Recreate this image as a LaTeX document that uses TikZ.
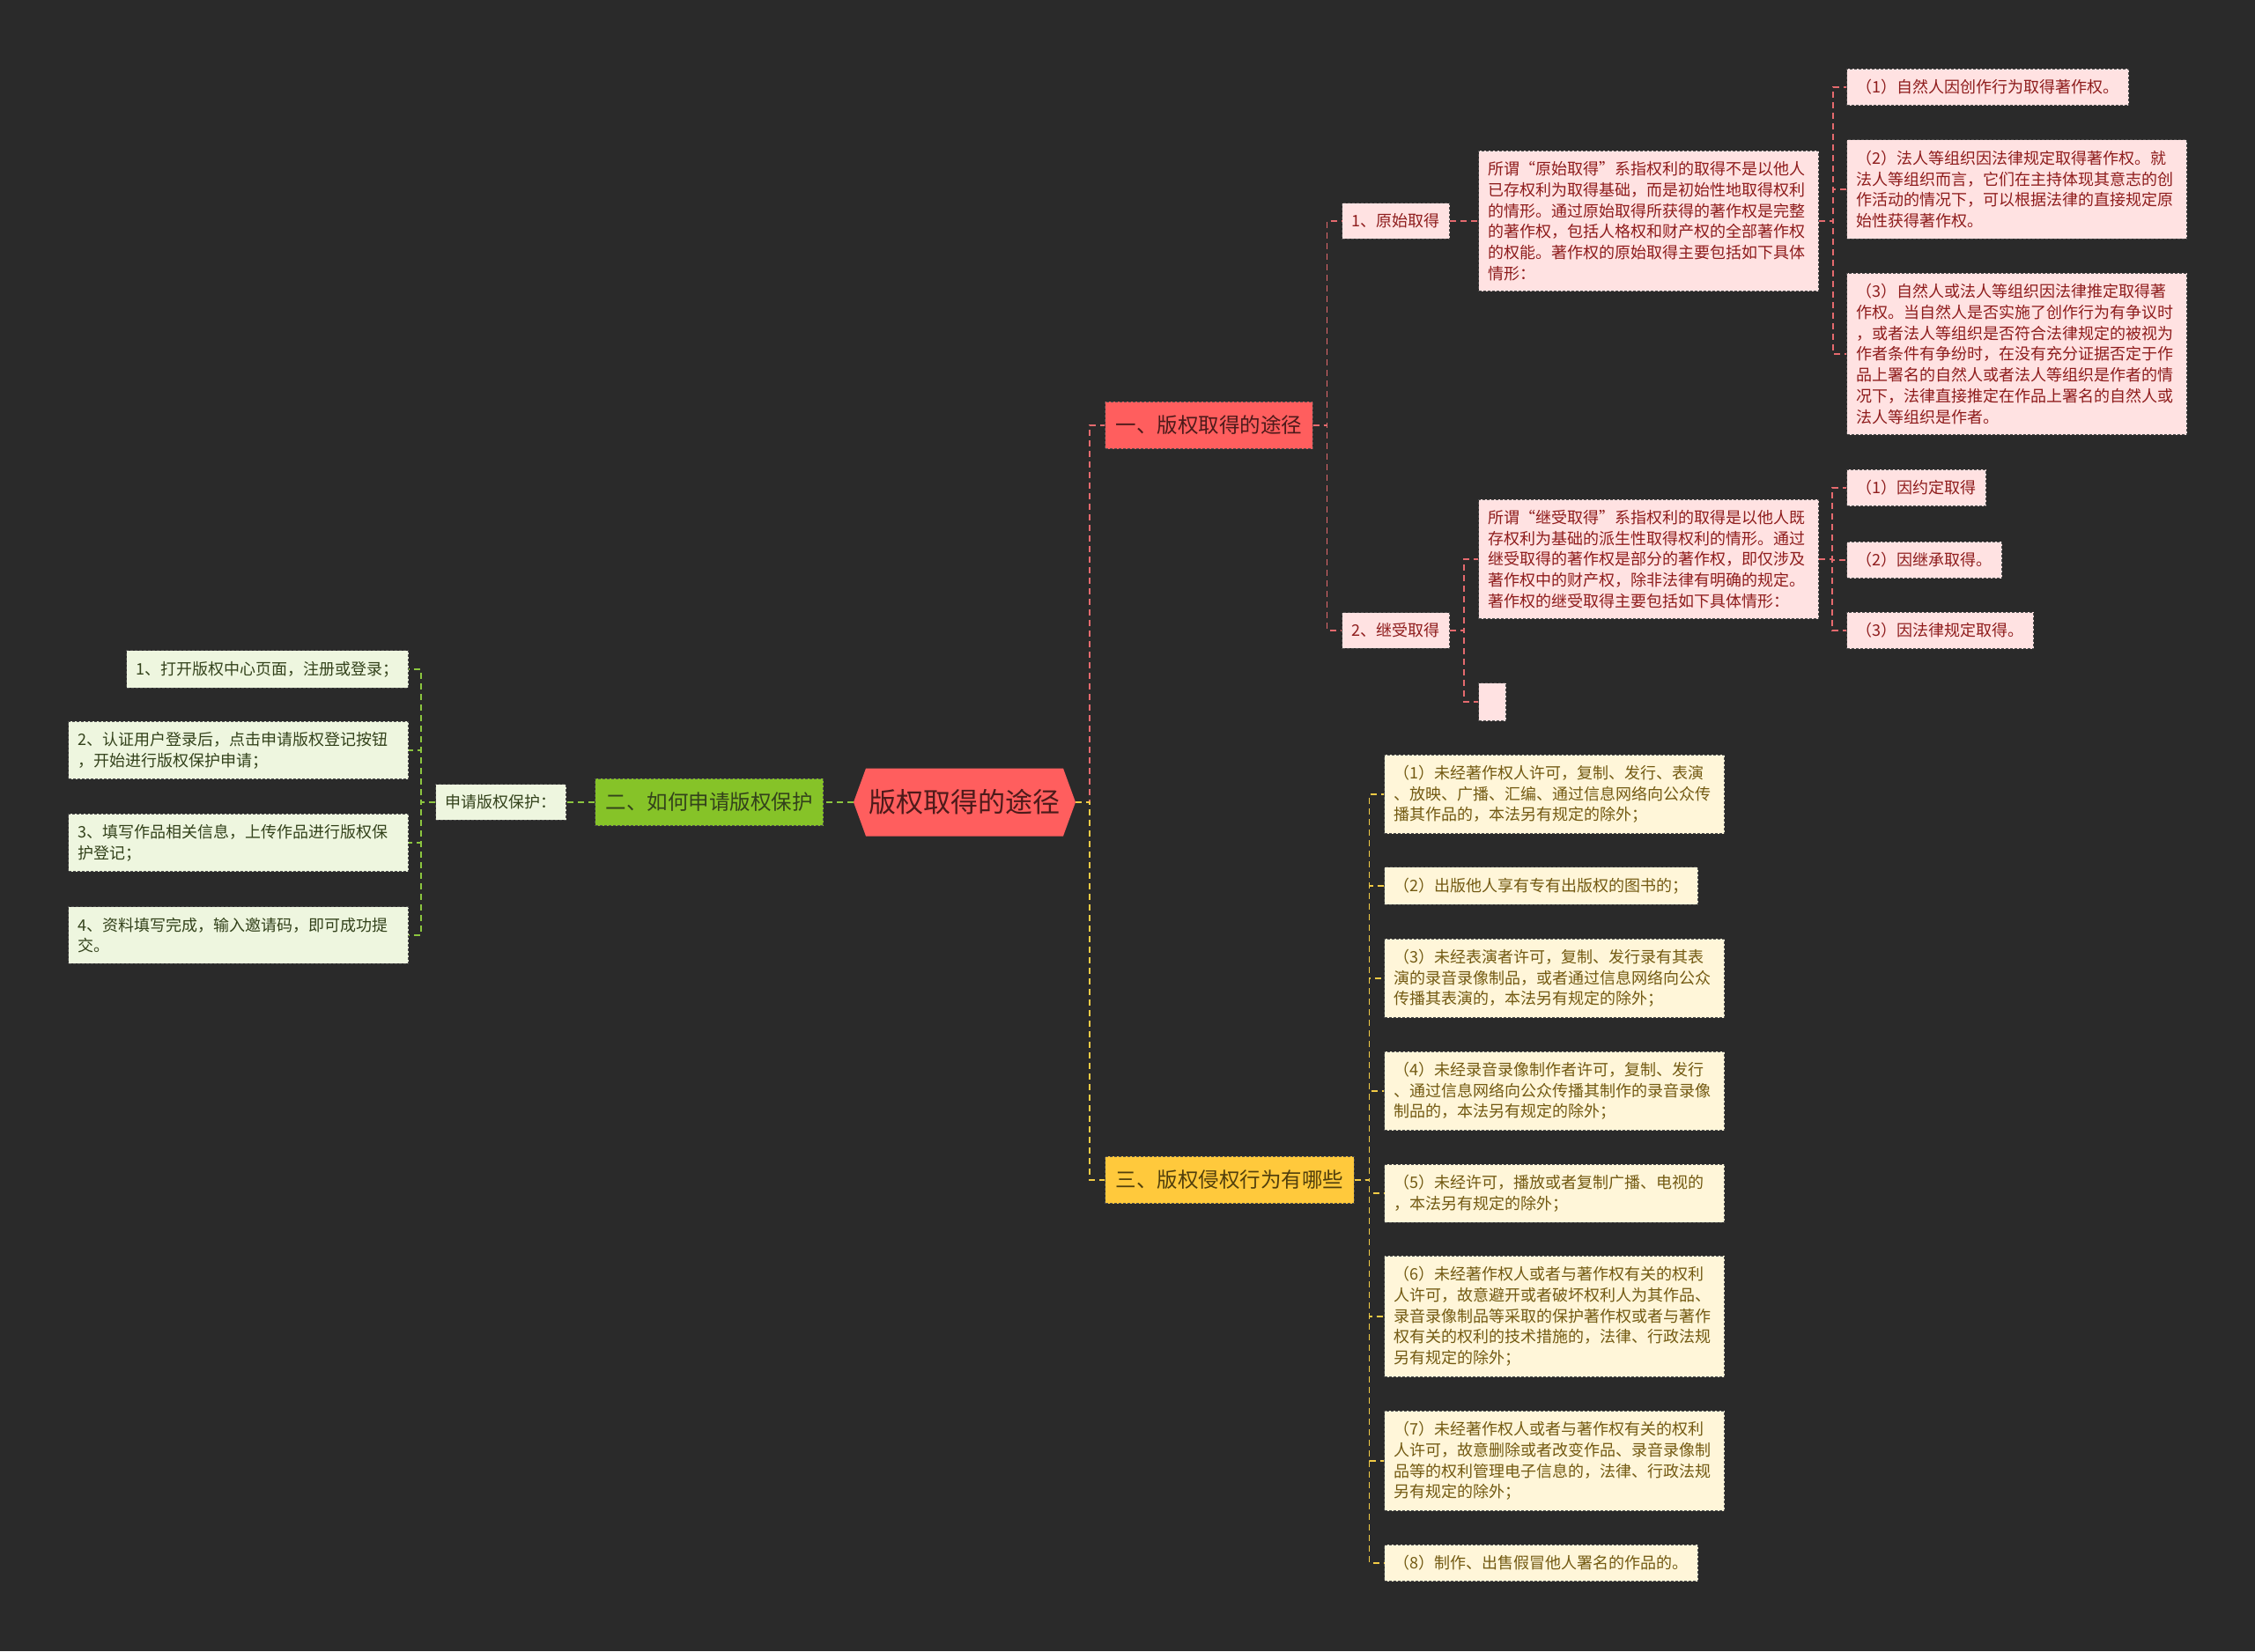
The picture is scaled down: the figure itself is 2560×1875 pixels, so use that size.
\documentclass[tikz,border=0pt]{standalone}
\usepackage{fontspec}
\setmainfont{Noto Sans CJK SC}
\usetikzlibrary{positioning, shapes.symbols}
\definecolor{canvas}{HTML}{2A2A2A}
\definecolor{rosefill}{HTML}{FF5E5E}
\definecolor{roseleaf}{HTML}{FFE2E2}
\definecolor{rosetext}{HTML}{8E1C1C}
\definecolor{roseline}{HTML}{E56A6E}
\definecolor{darktext}{HTML}{4D1A1A}
\definecolor{limefill}{HTML}{86C328}
\definecolor{limeleaf}{HTML}{EEF6DF}
\definecolor{limetext}{HTML}{33421B}
\definecolor{limeline}{HTML}{8CC63F}
\definecolor{goldfill}{HTML}{FFC93C}
\definecolor{goldleaf}{HTML}{FFF6D9}
\definecolor{goldtext}{HTML}{735A12}
\definecolor{goldline}{HTML}{F2CB45}
\newcommand\leaffont{\fontsize{18pt}{23.7pt}\selectfont}
\newcommand\branchfont{\fontsize{23.5pt}{28pt}\selectfont}
\newcommand\rootfont{\fontsize{31pt}{36pt}\selectfont}

\begin{document}
\begin{tikzpicture}[
    x=1pt, y=-1pt,
    rootnode/.style={shape=signal, signal to=east and west, signal pointer angle=140,
        fill=rosefill, text=darktext, font=\rootfont, minimum width=252pt, minimum height=77pt, inner sep=0pt},
    branch/.style={draw=black!70, dashed, dash pattern=on 3pt off 2pt, line width=1pt,
        font=\branchfont, inner xsep=12pt, inner ysep=16pt},
    leaf/.style={draw=black!70, dashed, dash pattern=on 3pt off 2pt, line width=1pt,
        font=\leaffont, align=left, inner xsep=11pt, inner ysep=12pt},
    redleaf/.style={leaf, fill=roseleaf, text=rosetext, anchor=west},
    greenleaf/.style={leaf, fill=limeleaf, text=limetext, anchor=east},
    yellowleaf/.style={leaf, fill=goldleaf, text=goldtext, anchor=west},
    wide/.style={text width=364pt},
    link/.style={line width=1.8pt, dash pattern=on 7pt off 5pt}
]
    \fill[canvas] (0,0) rectangle (2560,1875);
    \useasboundingbox (0,0) rectangle (2560,1875);

    % centre
    \node[rootnode] (root) at (1095,911) {版权取得的途径};

    % branch one
    \node[branch, fill=rosefill, text=darktext, anchor=west] (one) at (1254,483) {一、版权取得的途径};
    \node[redleaf] (orig) at (1523,251) {1、原始取得};
    \node[redleaf] (inher) at (1523,716) {2、继受取得};
    \node[redleaf, wide] (origdesc) at (1678,251) {所谓“原始取得”系指权利的取得不是以他人\\已存权利为取得基础，而是初始性地取得权利\\的情形。通过原始取得所获得的著作权是完整\\的著作权，包括人格权和财产权的全部著作权\\的权能。著作权的原始取得主要包括如下具体\\情形：};
    \node[redleaf] (origA) at (2096,99) {（1）自然人因创作行为取得著作权。};
    \node[redleaf, wide] (origB) at (2096,215) {（2）法人等组织因法律规定取得著作权。就\\法人等组织而言，它们在主持体现其意志的创\\作活动的情况下，可以根据法律的直接规定原\\始性获得著作权。};
    \node[redleaf, wide] (origC) at (2096,402) {（3）自然人或法人等组织因法律推定取得著\\作权。当自然人是否实施了创作行为有争议时\\，或者法人等组织是否符合法律规定的被视为\\作者条件有争纷时，在没有充分证据否定于作\\品上署名的自然人或者法人等组织是作者的情\\况下，法律直接推定在作品上署名的自然人或\\法人等组织是作者。};
    \node[redleaf, wide] (inherdesc) at (1678,635) {所谓“继受取得”系指权利的取得是以他人既\\存权利为基础的派生性取得权利的情形。通过\\继受取得的著作权是部分的著作权，即仅涉及\\著作权中的财产权，除非法律有明确的规定。\\著作权的继受取得主要包括如下具体情形：};
    \node[redleaf, minimum width=31pt, minimum height=43pt, inner sep=0pt] (blank) at (1678,797) {};
    \node[redleaf] (inherA) at (2096,554) {（1）因约定取得};
    \node[redleaf] (inherB) at (2096,636) {（2）因继承取得。};
    \node[redleaf] (inherC) at (2096,716) {（3）因法律规定取得。};

    % branch two
    \node[branch, fill=limefill, text=limetext, anchor=east] (two) at (935,911) {二、如何申请版权保护};
    \node[greenleaf] (apply) at (643,911) {申请版权保护：};
    \node[greenleaf] (stageA) at (464,760) {1、打开版权中心页面，注册或登录；};
    \node[greenleaf, wide] (stageB) at (464,852) {2、认证用户登录后，点击申请版权登记按钮\\，开始进行版权保护申请；};
    \node[greenleaf, wide] (stageC) at (464,957) {3、填写作品相关信息，上传作品进行版权保\\护登记；};
    \node[greenleaf, wide] (stageD) at (464,1062) {4、资料填写完成，输入邀请码，即可成功提\\交。};

    % branch three
    \node[branch, fill=goldfill, text=goldtext!70!black, anchor=west] (three) at (1254,1340) {三、版权侵权行为有哪些};
    \node[yellowleaf, wide] (actA) at (1571,902) {（1）未经著作权人许可，复制、发行、表演\\、放映、广播、汇编、通过信息网络向公众传\\播其作品的，本法另有规定的除外；};
    \node[yellowleaf] (actB) at (1571,1006) {（2）出版他人享有专有出版权的图书的；};
    \node[yellowleaf, wide] (actC) at (1571,1111) {（3）未经表演者许可，复制、发行录有其表\\演的录音录像制品，或者通过信息网络向公众\\传播其表演的，本法另有规定的除外；};
    \node[yellowleaf, wide] (actD) at (1571,1239) {（4）未经录音录像制作者许可，复制、发行\\、通过信息网络向公众传播其制作的录音录像\\制品的，本法另有规定的除外；};
    \node[yellowleaf, wide] (actE) at (1571,1355) {（5）未经许可，播放或者复制广播、电视的\\，本法另有规定的除外；};
    \node[yellowleaf, wide] (actF) at (1571,1495) {（6）未经著作权人或者与著作权有关的权利\\人许可，故意避开或者破坏权利人为其作品、\\录音录像制品等采取的保护著作权或者与著作\\权有关的权利的技术措施的，法律、行政法规\\另有规定的除外；};
    \node[yellowleaf, wide] (actG) at (1571,1659) {（7）未经著作权人或者与著作权有关的权利\\人许可，故意删除或者改变作品、录音录像制\\品等的权利管理电子信息的，法律、行政法规\\另有规定的除外；};
    \node[yellowleaf] (actH) at (1571,1775) {（8）制作、出售假冒他人署名的作品的。};

    % connectors
    \draw[link, roseline] (root.east) -- ++(16,0) |- (one.west);
    \draw[link, goldline] (root.east) -- ++(16,0) |- (three.west);
    \draw[link, limeline] (root.west) -- (two.east);
    \draw[link, limeline] (two.west) -- (apply.east);
    \foreach \n in {stageA, stageB, stageC, stageD}
        \draw[link, limeline] (apply.west) -- ++(-16,0) |- (\n.east);
    \foreach \n in {orig, inher}
        \draw[link, roseline] (one.east) -- ++(16,0) |- (\n.west);
    \draw[link, roseline] (orig.east) -- (origdesc.west);
    \foreach \n in {origA, origB, origC}
        \draw[link, roseline] (origdesc.east) -- ++(16,0) |- (\n.west);
    \foreach \n in {inherdesc, blank}
        \draw[link, roseline] (inher.east) -- ++(16,0) |- (\n.west);
    \foreach \n in {inherA, inherB, inherC}
        \draw[link, roseline] (inherdesc.east) -- ++(15,0) |- (\n.west);
    \foreach \n in {actA, actB, actC, actD, actE, actF, actG, actH}
        \draw[link, goldline] (three.east) -- ++(17,0) |- (\n.west);
\end{tikzpicture}
\end{document}
